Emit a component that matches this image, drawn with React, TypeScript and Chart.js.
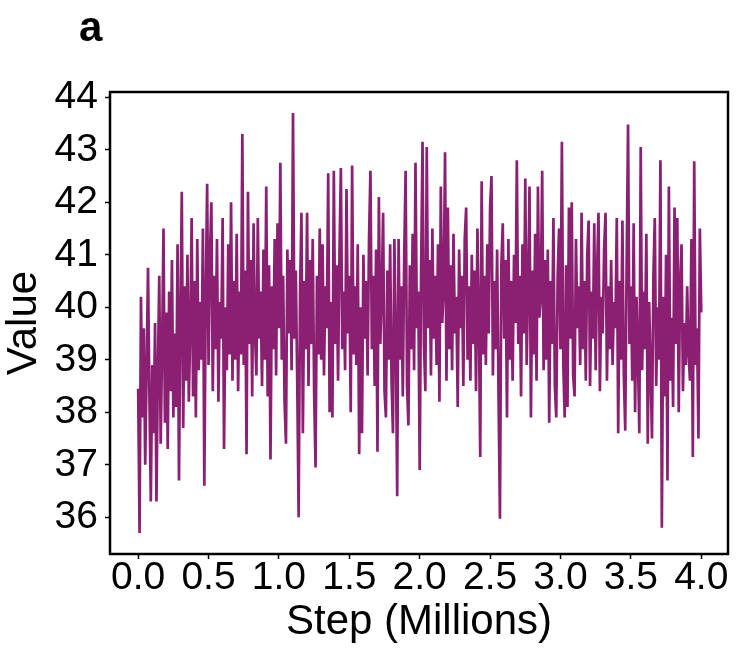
import React, { useEffect, useRef } from "react";
import { Chart, registerables } from "chart.js";

Chart.register(...registerables);

const PANEL_LABEL = "a";
const X_TITLE = "Step (Millions)";
const Y_TITLE = "Value";
const X_TICKS = [0, 0.5, 1, 1.5, 2, 2.5, 3, 3.5, 4];
const Y_TICKS = [36, 37, 38, 39, 40, 41, 42, 43, 44];
const STEP_SIZE = 0.01; // millions of steps between logged points

const VALUES: number[] = [
  38.45, 35.7, 40.2, 37.9, 39.6, 37.0, 38.8, 40.75, 38.3, 36.3,
  38.9, 37.6, 39.7, 36.3, 38.8, 40.6, 37.4, 39.2, 41.5, 37.8,
  39.9, 37.3, 40.3, 38.4, 40.9, 37.9, 39.5, 38.1, 41.2, 36.7,
  39.8, 42.2, 37.7, 40.4, 38.6, 41.0, 38.2, 39.6, 41.7, 38.3,
  40.5, 37.9, 41.3, 38.8, 40.1, 39.0, 41.5, 36.6, 40.2, 42.35,
  38.9, 41.0, 42.0, 38.4, 40.6, 39.2, 41.3, 38.2, 40.1, 39.4,
  41.7, 37.3, 40.0, 38.8, 41.2, 39.1, 42.0, 38.6, 40.5, 39.0,
  41.4, 38.4, 40.3, 39.1, 43.3, 38.9, 40.7, 37.2, 42.2, 39.3,
  40.9, 38.3, 41.6, 39.5, 38.7, 41.7, 39.4, 40.3, 38.5, 41.1,
  39.0, 42.3, 38.3, 40.8, 37.1, 40.4, 39.2, 41.3, 38.7, 41.6,
  39.6, 42.75, 39.0, 40.6, 38.2, 37.4, 41.1, 39.5, 40.9, 38.8,
  43.7, 39.4, 40.7, 38.6, 36.0, 40.3, 41.8, 37.6, 40.5, 39.2,
  41.8, 38.5, 40.9, 39.3, 41.3, 38.4, 36.95, 40.6, 39.1, 41.5,
  39.0, 41.2, 38.7, 40.4, 39.6, 42.55, 38.0, 40.1, 37.9, 42.6,
  39.3, 40.8, 38.6, 41.0, 42.65, 39.2, 40.3, 38.8, 42.25, 39.5,
  40.6, 38.0, 42.7, 39.1, 40.4, 38.9, 41.2, 37.2, 40.0, 37.6,
  41.0, 39.4, 40.5, 38.7, 41.3, 42.6, 39.2, 40.6, 38.5, 41.1,
  37.25, 42.1, 39.3, 40.2, 41.8, 38.4, 37.9, 40.7, 39.0, 41.2,
  38.6, 37.6, 41.3, 39.5, 36.4, 41.3, 39.0, 40.4, 38.3, 41.0,
  42.6, 38.5, 37.75, 40.8, 39.2, 41.4, 38.8, 42.75, 39.6, 40.3,
  36.9, 40.7, 43.15, 39.3, 38.4, 43.05, 39.6, 40.9, 38.7, 41.5,
  39.4, 40.6, 38.9, 41.2, 38.2, 42.3, 39.7, 40.3, 42.95, 38.6,
  41.9, 39.2, 40.8, 38.8, 41.4, 39.5, 40.2, 38.1, 41.1, 39.6,
  40.6, 38.5, 41.3, 41.9, 39.0, 40.4, 38.6, 41.0, 39.3, 40.7,
  38.4, 41.5, 39.8, 37.15, 42.4, 39.1, 40.6, 38.9, 41.2, 39.5,
  41.9, 42.5, 38.7, 40.5, 39.2, 41.1, 38.3, 35.97, 40.8, 41.6,
  39.4, 40.9, 37.9, 41.3, 39.0, 40.5, 38.6, 41.0, 39.7, 42.8,
  39.3, 40.6, 38.3, 41.2, 39.5, 42.45, 38.9, 40.4, 42.3, 37.9,
  40.7, 39.1, 41.4, 38.6, 42.3, 39.8, 40.2, 42.6, 38.8, 40.9,
  39.0, 41.1, 37.8, 40.5, 39.3, 41.7, 38.5, 37.9, 40.6, 41.5,
  39.2, 43.15, 38.9, 37.9, 40.8, 38.1, 41.9, 39.4, 42.0, 38.7,
  38.3, 41.3, 39.6, 40.4, 38.9, 41.8, 39.2, 40.5, 38.6, 41.0,
  41.65, 38.5, 40.3, 39.4, 41.6, 38.8, 40.7, 41.8, 38.4, 40.2,
  39.5, 41.1, 41.8, 38.6, 40.4, 39.2, 40.9, 38.9, 40.1, 39.6,
  41.7, 37.6, 40.5, 39.0, 41.65, 38.7, 37.65, 40.8, 43.48, 39.3,
  40.4, 38.6, 41.6, 38.0, 40.2, 39.1, 37.6, 43.05, 38.8, 40.3,
  39.2, 41.4, 37.4, 40.1, 38.8, 37.5, 40.6, 41.7, 38.5, 40.0,
  39.0, 42.8, 35.8, 40.2, 38.3, 41.0, 36.7, 42.3, 38.6, 39.8,
  38.1, 41.9, 39.3, 41.7, 38.0, 40.5, 41.2, 38.4, 39.7, 38.9,
  40.4, 39.1, 38.6, 41.3, 37.15, 42.78, 38.9, 39.6, 37.5, 41.5,
  39.9,
];

const LINE_COLOR = "#8b1f72";
const FONT_FAMILY = '"Liberation Sans", Arial, sans-serif';

const framePlugin = {
  id: "frameAndLabel",
  afterDatasetsDraw(chart: any) {
    const { ctx, chartArea } = chart;
    const { left, top, right, bottom } = chartArea;
    ctx.save();
    ctx.strokeStyle = "#000";
    ctx.lineWidth = 2.5;
    ctx.strokeRect(left, top, right - left, bottom - top);
    ctx.restore();
  },
  afterDraw(chart: any) {
    const { ctx } = chart;
    ctx.save();
    ctx.fillStyle = "#000";
    ctx.font = `bold 42px ${FONT_FAMILY}`;
    ctx.textBaseline = "alphabetic";
    ctx.textAlign = "left";
    ctx.fillText(PANEL_LABEL, 79, 41);
    ctx.restore();
  },
};

export default function App() {
  const canvasRef = useRef<HTMLCanvasElement | null>(null);

  useEffect(() => {
    document.body.style.margin = "0";
    const canvas = canvasRef.current;
    if (!canvas) return;
    const points = VALUES.map((v, i) => ({ x: i * STEP_SIZE, y: v }));
    const chart = new Chart(canvas, {
      type: "line",
      data: {
        datasets: [
          {
            data: points,
            borderColor: LINE_COLOR,
            backgroundColor: LINE_COLOR,
            borderWidth: 2.7,
            pointRadius: 0,
            tension: 0,
          },
        ],
      },
      plugins: [framePlugin],
      options: {
        animation: false,
        responsive: false,
        maintainAspectRatio: false,
        layout: { padding: { top: 92, right: 12, left: 0, bottom: 0 } },
        plugins: {
          legend: { display: false },
          tooltip: { enabled: false },
          title: { display: false },
        },
        scales: {
          x: {
            type: "linear",
            min: -0.2,
            max: 4.19,
            afterFit: (scale: any) => {
              scale.height = 102;
            },
            afterBuildTicks: (scale: any) => {
              scale.ticks = X_TICKS.map((v) => ({ value: v }));
            },
            border: { display: false },
            grid: {
              drawOnChartArea: false,
              drawTicks: true,
              tickLength: 5,
              tickWidth: 1.5,
              tickColor: "#000",
            },
            ticks: {
              autoSkip: false,
              maxRotation: 0,
              padding: 0,
              color: "#000",
              font: { family: FONT_FAMILY, size: 39, lineHeight: 1 },
              callback: (v: any) => Number(v).toFixed(1),
            },
            title: {
              display: true,
              text: X_TITLE,
              color: "#000",
              font: { family: FONT_FAMILY, size: 42, lineHeight: 1 },
              padding: { top: 0, bottom: 13 },
            },
          },
          y: {
            type: "linear",
            min: 35.3,
            max: 44.1,
            afterFit: (scale: any) => {
              scale.width = 110;
            },
            afterBuildTicks: (scale: any) => {
              scale.ticks = Y_TICKS.map((v) => ({ value: v }));
            },
            border: { display: false },
            grid: {
              drawOnChartArea: false,
              drawTicks: true,
              tickLength: 5,
              tickWidth: 1.5,
              tickColor: "#000",
            },
            ticks: {
              padding: 7,
              color: "#000",
              font: { family: FONT_FAMILY, size: 39, lineHeight: 1 },
              callback: (v: any) => String(v),
            },
            title: {
              display: true,
              text: Y_TITLE,
              color: "#000",
              font: { family: FONT_FAMILY, size: 42, lineHeight: 1 },
              padding: { top: 3, bottom: 0 },
            },
          },
        },
      },
    });
    return () => chart.destroy();
  }, []);

  return (
    <div style={{ width: 740, height: 656, background: "#fff" }}>
      <canvas ref={canvasRef} width={740} height={656} style={{ width: 740, height: 656 }} />
    </div>
  );
}
